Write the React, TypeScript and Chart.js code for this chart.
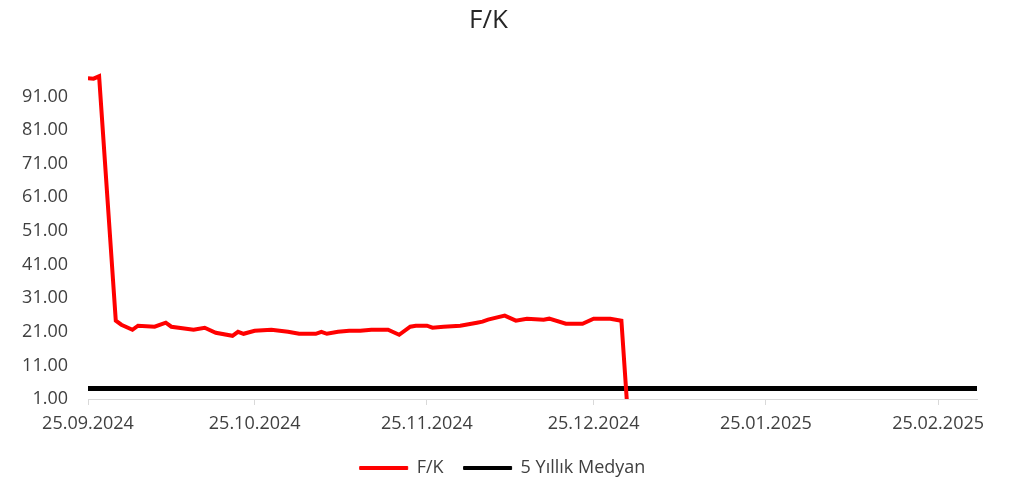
import React, { useEffect, useRef } from "react";
import { Chart, registerables } from "chart.js";

Chart.register(...registerables);

// Day offsets from 25.09.2024
const baseDate = Date.UTC(2024, 8, 25);
const xTickDays = [0, 30, 61, 91, 122, 153];
const yTicks = [1, 11, 21, 31, 41, 51, 61, 71, 81, 91];

const fkDays = [
  0, 1, 2, 5, 6, 8, 9, 12, 14, 15, 19, 21, 23, 26, 27, 28, 30, 33, 36, 38, 41,
  42, 43, 45, 47, 49, 51, 54, 56, 58, 59, 61, 62, 64, 67, 70, 71, 72, 75, 77,
  79, 82, 83, 86, 89, 91, 94, 96, 97,
];
const fkValues = [
  96.4, 96.3, 97.0, 24.3, 23.1, 21.6, 22.8, 22.5, 23.7, 22.5, 21.6, 22.2, 20.7,
  19.8, 21.0, 20.4, 21.3, 21.6, 21.0, 20.4, 20.4, 21.0, 20.4, 21.0, 21.3, 21.3,
  21.6, 21.6, 20.1, 22.5, 22.8, 22.8, 22.2, 22.5, 22.8, 23.7, 24.0, 24.6, 25.8,
  24.3, 24.9, 24.6, 24.9, 23.4, 23.4, 24.9, 24.9, 24.3, 0,
];
const medianDays = [0, 160];
const medianValues = [4.1, 4.1];

const fmtDate = (d: number) => {
  const dt = new Date(baseDate + d * 86400000);
  const dd = String(dt.getUTCDate()).padStart(2, "0");
  const mm = String(dt.getUTCMonth() + 1).padStart(2, "0");
  return `${dd}.${mm}.${dt.getUTCFullYear()}`;
};

const shiftLegend = {
  id: "shiftLegend",
  afterLayout(chart: any) {
    if (chart.legend) {
      chart.legend.left += 14;
      chart.legend.right += 14;
    }
  },
};

export default function App() {
  const ref = useRef<HTMLCanvasElement>(null);
  useEffect(() => {
    if (!ref.current) return;
    const font = "'Open Sans', sans-serif";
    const chart = new Chart(ref.current, {
      type: "line",
      plugins: [shiftLegend],
      data: {
        datasets: [
          {
            label: "F/K",
            data: fkDays.map((d, i) => ({ x: d, y: fkValues[i] })),
            borderColor: "#ff0000",
            backgroundColor: "#ff0000",
            borderWidth: 4,
            pointRadius: 0,
            tension: 0,
          },
          {
            label: "5 Yıllık Medyan",
            data: medianDays.map((d, i) => ({ x: d, y: medianValues[i] })),
            borderColor: "#000000",
            backgroundColor: "#000000",
            borderWidth: 5,
            pointRadius: 0,
            tension: 0,
          },
        ],
      },
      options: {
        animation: false,
        responsive: true,
        maintainAspectRatio: false,
        layout: { padding: { left: 0, right: 39, top: 0, bottom: -1 } },
        plugins: {
          title: {
            display: true,
            text: "F/K",
            color: "#262626",
            font: { family: font, size: 26, weight: "normal" },
            padding: { top: 5, bottom: 30 },
          },
          legend: {
            position: "bottom",
            labels: {
              color: "#404040",
              font: { family: font, size: 18 },
              boxWidth: 48,
              boxHeight: 3,
              padding: 20,
              generateLabels: (c: any) =>
                Chart.defaults.plugins.legend.labels
                  .generateLabels(c)
                  .map((l: any) => ({ ...l, lineWidth: 1 })),
            },
          },
          tooltip: { enabled: false },
        },
        scales: {
          x: {
            type: "linear",
            min: 0,
            max: 160,
            afterBuildTicks: (s: any) => {
              s.ticks = xTickDays.map((v) => ({ value: v }));
            },
            afterFit: (s: any) => {
              s.height = 40;
            },
            ticks: {
              callback: (v: any) => fmtDate(Number(v)),
              color: "#404040",
              font: { family: font, size: 18 },
              maxRotation: 0,
              autoSkip: false,
              padding: 8,
            },
            grid: {
              display: true,
              drawOnChartArea: false,
              drawTicks: true,
              tickLength: 6,
              color: "#d9d9d9",
            },
            border: { display: true, color: "#d9d9d9", width: 1 },
          },
          y: {
            type: "linear",
            min: 1,
            max: 100,
            afterBuildTicks: (s: any) => {
              s.ticks = yTicks.map((v) => ({ value: v }));
            },
            afterFit: (s: any) => {
              s.width = 88;
            },
            ticks: {
              callback: (v: any) => Number(v).toFixed(2),
              color: "#404040",
              font: { family: font, size: 18 },
              padding: 20,
            },
            grid: { display: false, drawTicks: false },
            border: { display: false },
          },
        },
      },
    });
    return () => chart.destroy();
  }, []);
  return (
    <div
      style={{
        position: "absolute",
        left: 0,
        top: 0,
        width: 1016,
        height: 486,
        background: "#fff",
      }}
    >
      <canvas ref={ref} />
    </div>
  );
}
